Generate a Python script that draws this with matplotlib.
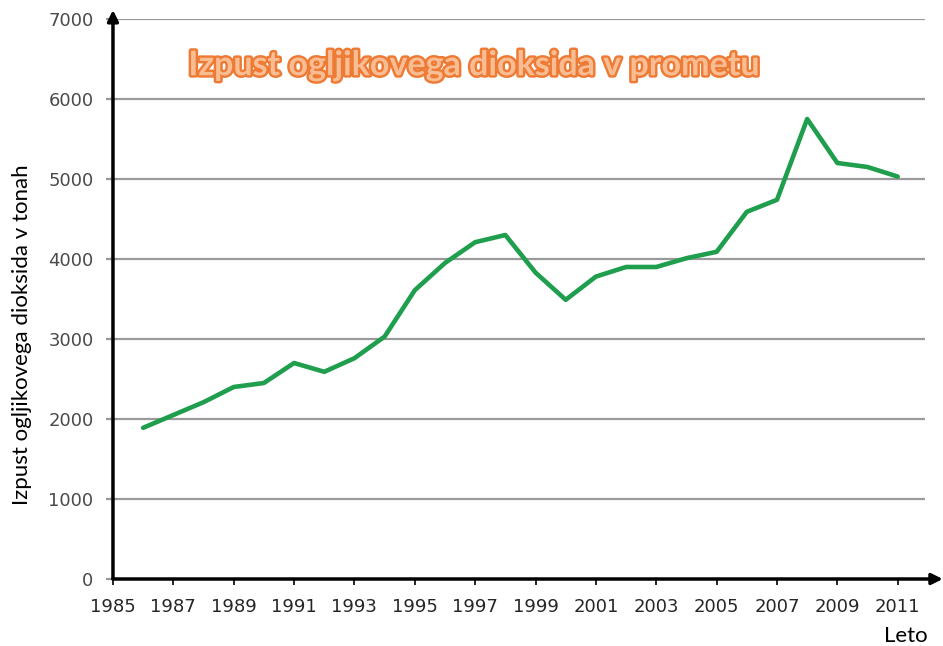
import matplotlib.pyplot as plt
import matplotlib.patheffects as pe

# Podatki (odčitano z grafa)
leta = list(range(1986, 2012))
izpust = [1890, 2050, 2210, 2400, 2450, 2700, 2590, 2760, 3030, 3610,
          3950, 4210, 4300, 3830, 3490, 3780, 3900, 3900, 4010, 4090,
          4590, 4740, 5750, 5200, 5150, 5030]
x_ticks = list(range(1985, 2012, 2))
y_ticks = list(range(0, 7001, 1000))

fig = plt.figure(figsize=(9.43, 6.46), dpi=100)
ax = fig.add_axes([0.1198, 0.1037, 0.861, 0.8669])

ax.plot(leta, izpust, color='#1f9e4e', lw=3.3, solid_joinstyle='round',
        solid_capstyle='round', zorder=3)

ax.set_xlim(1985, 2011.9)
ax.set_ylim(0, 7000)
ax.set_xticks(x_ticks)
ax.set_yticks(y_ticks)
ax.yaxis.grid(True, color='#9a9a9a', lw=1.6)
ax.set_axisbelow(True)

for s in ax.spines.values():
    s.set_visible(False)

ax.tick_params(axis='x', length=4, width=1.2, color='black', pad=10,
               labelsize=13, labelcolor='#262626')
ax.tick_params(axis='y', length=5, width=1.6, color='#9a9a9a', pad=9,
               labelsize=13, labelcolor='#4a4a4a')

# osi s puščicami
ax.annotate('', xy=(0, 1.016), xytext=(0, 0), xycoords='axes fraction',
            arrowprops=dict(arrowstyle='-|>', lw=2.5, color='black',
                            mutation_scale=16, shrinkA=0, shrinkB=0))
ax.annotate('', xy=(1.022, 0), xytext=(0, 0), xycoords='axes fraction',
            arrowprops=dict(arrowstyle='-|>', lw=2.5, color='black',
                            mutation_scale=16, shrinkA=0, shrinkB=0))

ax.set_ylabel('Izpust ogljikovega dioksida v tonah', fontsize=16,
              family='Lato', color='black')
ax.yaxis.set_label_coords(-0.100, 0.436)

fig.text(0.961, 0.0155, 'Leto', fontsize=16, family='Lato',
         ha='center', va='center')

t = fig.text(0.503, 0.899, 'Izpust ogljikovega dioksida v prometu',
             fontsize=24.5, family='Lato', fontweight='bold', color='#f9bd94',
             ha='center', va='center')
t.set_path_effects([pe.withStroke(linewidth=3.5, foreground='#ee7a34')])

fig.savefig('out.png', dpi=100, facecolor='white')
